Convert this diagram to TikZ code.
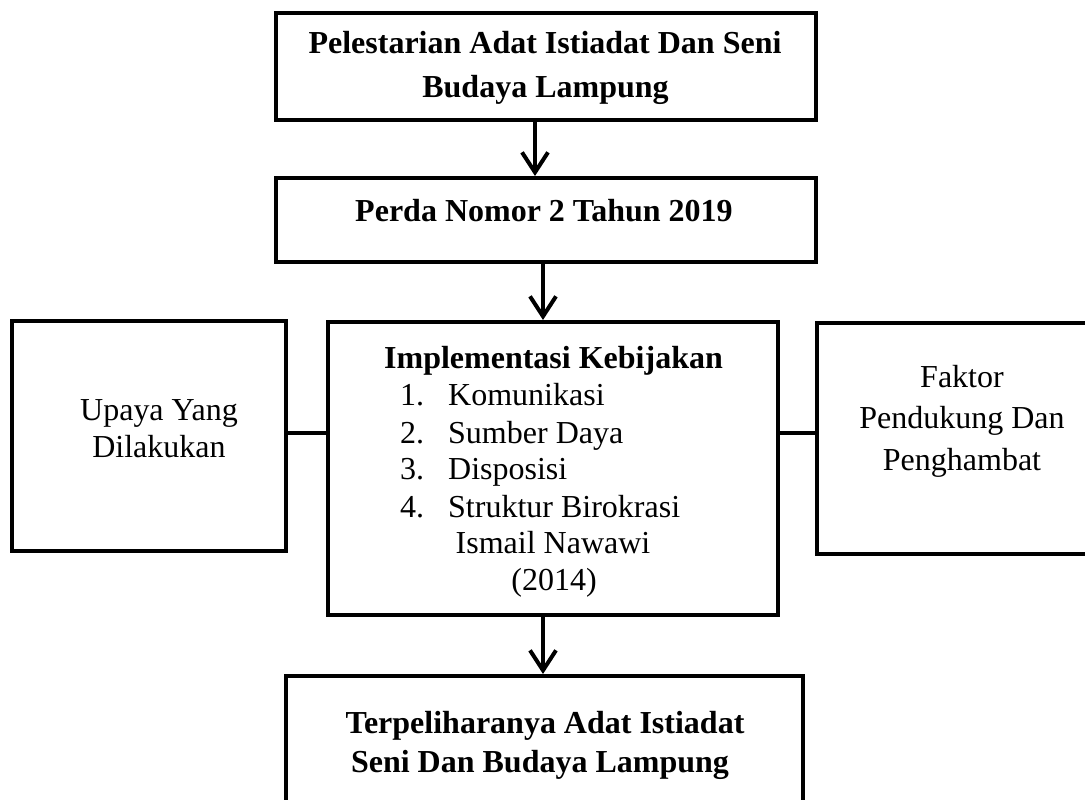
\documentclass[tikz,border=0pt]{standalone}
\usepackage{fontspec}
\setmainfont{Liberation Serif}
\usetikzlibrary{arrows.meta}
\tikzset{
  box/.style={draw=black, line width=4pt, rectangle, inner sep=0pt, fill=none},
  conn/.style={draw=black, line width=4pt},
  arr/.style={draw=black, line width=4pt, -{Straight Barb[length=20pt,width=26pt]}},
  btxt/.style={font=\fontsize{32}{37}\selectfont\bfseries, inner sep=0pt, anchor=base},
  ntxt/.style={font=\fontsize{32}{37}\selectfont, inner sep=0pt, anchor=base},
  ltxt/.style={font=\fontsize{32}{37}\selectfont, inner sep=0pt, anchor=base west}
}
\begin{document}
\begin{tikzpicture}[x=1pt,y=-1pt]
\clip (0,0) rectangle (1085,800);
\fill[white] (0,0) rectangle (1085,800);
% boxes
\node[box, minimum width=540pt, minimum height=107pt] (b1) at (546,66.5) {};
\node[box, minimum width=540pt, minimum height=84pt] (b2) at (546,220) {};
\node[box, minimum width=450pt, minimum height=293pt] (mid) at (553,468.5) {};
\node[box, minimum width=274pt, minimum height=230pt] (lft) at (149,436) {};
\node[box, minimum width=283pt, minimum height=231pt] (rgt) at (958.5,438.5) {};
\node[box, minimum width=517pt, minimum height=144pt] (bot) at (544.5,748) {};
% helper coordinates
\coordinate (a1) at (535,0);
\coordinate (a2) at (543,0);
\coordinate (cy) at (0,433);
% arrows
\draw[arr] (b1.south -| a1) -- (b2.north -| a1);
\draw[arr] (b2.south -| a2) -- (mid.north -| a2);
\draw[arr] (mid.south -| a2) -- (bot.north -| a2);
% side connectors
\draw[conn] (lft.east |- cy) -- (mid.west |- cy);
\draw[conn] (mid.east |- cy) -- (rgt.west |- cy);
% texts
\node[btxt] (t1a) at (545,54) {Pelestarian Adat Istiadat Dan Seni};
\node[btxt] (t1b) at (545.5,98) {Budaya Lampung};
\node[btxt] (t2) at (544,221) {Perda Nomor 2 Tahun 2019};
\node[btxt] (tm0) at (553.5,368) {Implementasi Kebijakan};
\node[ltxt] (n1) at (400,405) {1.};
\node[ltxt] (n2) at (400,443) {2.};
\node[ltxt] (n3) at (400,479) {3.};
\node[ltxt] (n4) at (400,517) {4.};
\node[ltxt] (i1) at (448,405) {Komunikasi};
\node[ltxt] (i2) at (448,443) {Sumber Daya};
\node[ltxt] (i3) at (448,479) {Disposisi};
\node[ltxt] (i4) at (448,517) {Struktur Birokrasi};
\node[ntxt] (tm5) at (553,553) {Ismail Nawawi};
\node[ntxt] (tm6) at (554,590) {(2014)};
\node[ntxt] (tl1) at (159,420) {Upaya Yang};
\node[ntxt] (tl2) at (159,457) {Dilakukan};
\node[ntxt] (tr1) at (962,387) {Faktor};
\node[ntxt] (tr2) at (962,428) {Pendukung Dan};
\node[ntxt] (tr3) at (962,470) {Penghambat};
\node[btxt] (tb1) at (545,733) {Terpeliharanya Adat Istiadat};
\node[btxt] (tb2) at (540,772) {Seni Dan Budaya Lampung};
\end{tikzpicture}
\end{document}
